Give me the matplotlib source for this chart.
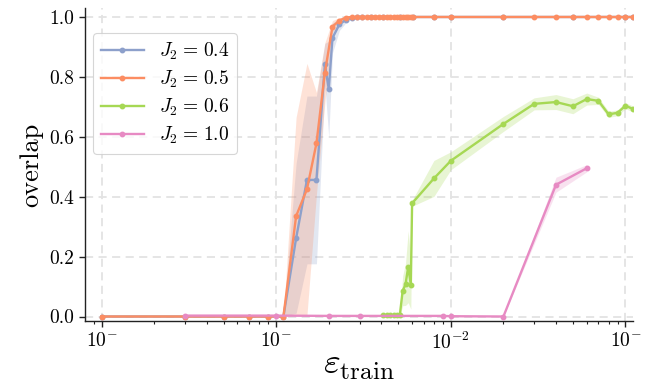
import matplotlib
matplotlib.use("Agg")
import matplotlib.pyplot as plt
import numpy as np
from matplotlib.ticker import FixedLocator, FixedFormatter, LogLocator, NullFormatter

plt.rcParams['font.family'] = 'serif'
plt.rcParams['font.serif'] = ['cmr10', 'DejaVu Serif']
plt.rcParams['mathtext.fontset'] = 'cm'
plt.rcParams['axes.unicode_minus'] = False
plt.rcParams['axes.formatter.use_mathtext'] = True

# ---- data ----
x04 = [1e-4, 3e-4, 5e-4, 7e-4, 9e-4, 1.1e-3, 1.3e-3, 1.5e-3, 1.7e-3, 1.9e-3, 2.0e-3,
       2.1e-3, 2.3e-3, 2.5e-3, 2.7e-3, 2.9e-3, 3.1e-3, 3.5e-3, 4.1e-3, 5.1e-3, 6.1e-3,
       8e-3, 1e-2, 2e-2, 5e-2, 1e-1, 1.1e-1]
y04 = [0, 0, 0, 0, 0, 0, 0.261, 0.456, 0.456, 0.842, 0.759,
       0.93, 0.975, 0.99, 0.997, 1.0, 1.0, 1.0, 1.0, 1.0, 1.0,
       1.0, 1.0, 1.0, 1.0, 1.0, 1.0]
s04 = [0, 0, 0, 0, 0, 0, 0.25, 0.28, 0.28, 0.07, 0.16,
       0.05, 0.02, 0.01, 0.003, 0, 0, 0, 0, 0, 0,
       0, 0, 0, 0, 0, 0]

x05 = [1e-4, 3e-4, 5e-4, 7e-4, 9e-4, 1.1e-3, 1.3e-3, 1.5e-3, 1.7e-3, 1.9e-3,
       2.1e-3, 2.3e-3, 2.5e-3, 2.7e-3, 2.9e-3, 3.1e-3, 3.3e-3, 3.5e-3, 3.7e-3, 3.9e-3,
       4.1e-3, 4.3e-3, 4.5e-3, 4.7e-3, 4.9e-3, 5.1e-3, 5.3e-3, 5.5e-3, 5.7e-3, 5.9e-3,
       6.1e-3, 8e-3, 1e-2, 2e-2, 3e-2, 4e-2, 5e-2, 6e-2, 7e-2, 8e-2, 9e-2, 1e-1, 1.1e-1]
y05 = [0, 0, 0, 0, 0, 0, 0.335, 0.425, 0.578, 0.814,
       0.968, 0.988, 0.998, 1.0, 1.0, 1.0, 1.0, 1.0, 1.0, 1.0,
       1.0, 1.0, 1.0, 1.0, 1.0, 1.0, 1.0, 1.0, 1.0, 1.0,
       1.0, 1.0, 1.0, 1.0, 1.0, 1.0, 1.0, 1.0, 1.0, 1.0, 1.0, 1.0, 1.0]
s05 = [0, 0, 0, 0, 0, 0, 0.33, 0.42, 0.17, 0.10,
       0.02, 0.01, 0.002, 0, 0, 0, 0, 0, 0, 0,
       0, 0, 0, 0, 0, 0, 0, 0, 0, 0,
       0, 0, 0, 0, 0, 0, 0, 0, 0, 0, 0, 0, 0]

x06 = [4.1e-3, 4.3e-3, 4.5e-3, 4.7e-3, 4.9e-3, 5.1e-3, 5.3e-3, 5.5e-3, 5.7e-3, 5.9e-3,
       6.0e-3, 8e-3, 1e-2, 2e-2, 3e-2, 4e-2, 5e-2, 6e-2, 7e-2, 8e-2, 9e-2, 1e-1, 1.1e-1]
y06 = [0.004, 0.004, 0.004, 0.004, 0.004, 0.004, 0.086, 0.107, 0.166, 0.105,
       0.378, 0.461, 0.52, 0.643, 0.71, 0.716, 0.702, 0.726, 0.72, 0.675, 0.68, 0.704, 0.693]
s06 = [0.003, 0.003, 0.003, 0.003, 0.003, 0.003, 0.05, 0.07, 0.12, 0.08,
       0.01, 0.06, 0.03, 0.025, 0.02, 0.025, 0.025, 0.02, 0.012, 0.01, 0.01, 0.01, 0.01]

x10 = [3e-4, 1e-3, 2e-3, 3e-3, 9e-3, 1e-2, 2e-2, 4e-2, 6e-2]
y10 = [0.003, 0.003, 0.002, 0.002, 0.002, 0.001, 0.0, 0.44, 0.495]
s10 = [0, 0, 0, 0, 0, 0, 0, 0.025, 0.012]

labels = [r'$J_2\hspace{0.1}=\hspace{0.1}0.4$', r'$J_2\hspace{0.1}=\hspace{0.1}0.5$',
          r'$J_2\hspace{0.1}=\hspace{0.1}0.6$', r'$J_2\hspace{0.1}=\hspace{0.1}1.0$']
colors = ['#8da0cb', '#fc8d62', '#a6d854', '#e78ac3']
xtick_vals = [1e-4, 1e-3, 1e-2, 1e-1]
xtick_labels = [r'$10^{-}$', r'$10^{-}$', r'$10^{-2}$', r'$10^{-}$']
ytick_vals = [0.0, 0.2, 0.4, 0.6, 0.8, 1.0]

# ---- figure ----
fig = plt.figure(figsize=(6.49, 3.81), dpi=100)
ax = fig.add_axes([85/649, 1-321/381, (633-85)/649, (321-8)/381])

series = [(x04, y04, s04), (x05, y05, s05), (x06, y06, s06), (x10, y10, s10)]
for (x, y, s), c, lab in zip(series, colors, labels):
    x = np.array(x); y = np.array(y); s = np.array(s)
    ax.fill_between(x, y - s, y + s, color=c, alpha=0.25, linewidth=0, zorder=2)
    ax.plot(x, y, '-o', color=c, lw=1.7, ms=3.2, label=lab, zorder=3)

ax.set_xscale('log')
ax.set_xlim(8.04e-5, 0.1104)
ax.set_ylim(-0.015, 1.03)

ax.xaxis.set_major_locator(FixedLocator(xtick_vals))
ax.xaxis.set_major_formatter(FixedFormatter(xtick_labels))
ax.xaxis.set_minor_locator(LogLocator(base=10, subs=np.arange(2, 10)))
ax.xaxis.set_minor_formatter(NullFormatter())
ax.set_yticks(ytick_vals)
ax.set_yticklabels(['0.0', '0.2', '0.4', '0.6', '0.8', '1.0'])

ax.grid(True, which='major', color='#e3e3e3', lw=1.3, linestyle=(0, (4.5, 3)), zorder=0)
ax.set_axisbelow(True)

for sp in ['top', 'right']:
    ax.spines[sp].set_visible(False)
for sp in ['left', 'bottom']:
    ax.spines[sp].set_linewidth(1.0)
    ax.spines[sp].set_color('#222222')

ax.tick_params(axis='both', which='major', labelsize=14, length=4.5, width=1.0, color='#222222')
ax.tick_params(axis='x', which='minor', length=2.5, width=0.8, color='#222222')

ax.set_xlabel(r'$\varepsilon_{\mathrm{train}}$', fontsize=26, labelpad=-2)
ax.set_ylabel('overlap', fontsize=19, labelpad=4)

leg = ax.legend(loc='upper left', bbox_to_anchor=((93-85)/548, 1-(33-8)/313),
                borderaxespad=0, fontsize=14, frameon=True, fancybox=True,
                handlelength=2.2, labelspacing=0.35, borderpad=0.4)
leg.get_frame().set_edgecolor('#cccccc')
leg.get_frame().set_linewidth(0.8)

fig.savefig('out.png', dpi=100)
